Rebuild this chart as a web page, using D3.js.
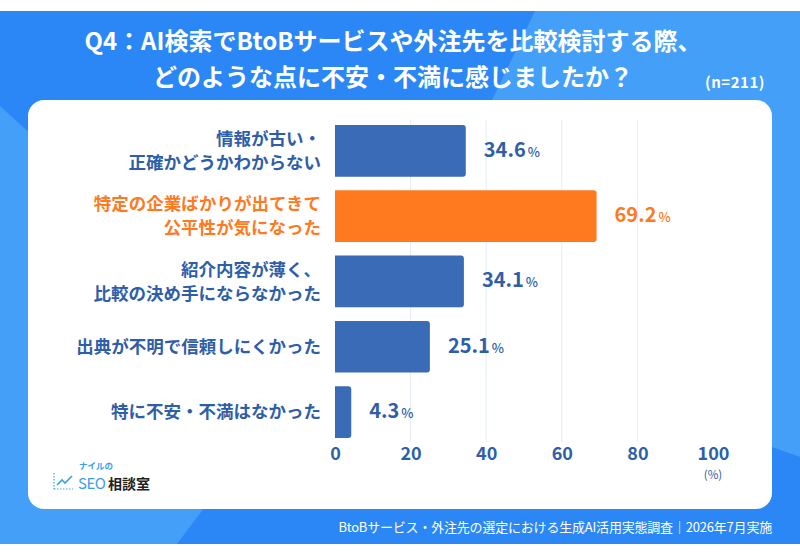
<!DOCTYPE html>
<html>
<head>
<meta charset="utf-8">
<script src="https://cdn.jsdelivr.net/npm/d3@7"></script>
<style>
  html, body { margin: 0; padding: 0; background: #fff; }
  svg { display: block; font-family: "Noto Sans CJK JP", "Noto Sans", sans-serif; }
</style>
</head>
<body>
<script>
// data
var categories = [
  "情報が古い・\n正確かどうかわからない",
  "特定の企業ばかりが出てきて\n公平性が気になった",
  "紹介内容が薄く、\n比較の決め手にならなかった",
  "出典が不明で信頼しにくかった",
  "特に不安・不満はなかった"
];
var values = [34.6, 69.2, 34.1, 25.1, 4.3];
var highlight = [false, true, false, false, false];
var ticks = [0, 20, 40, 60, 80, 100];

var titleLines = [
  "Q4：AI検索でBtoBサービスや外注先を比較検討する際、",
  "どのような点に不安・不満に感じましたか？"
];
var sampleText = "(n=211)";
var footerText = "BtoBサービス・外注先の選定における生成AI活用実態調査｜2026年7月実施";

var width = 800;
var height = 556;

var blue = "#3a6bb6";
var orange = "#ff7a1f";
var textBlue = "#2f5ea8";

var svg = d3.select("body")
  .append("svg")
  .attr("width", width)
  .attr("height", height);

// background band
svg.append("rect")
  .attr("x", 0).attr("y", 11)
  .attr("width", width).attr("height", 533)
  .attr("fill", "#2b87f6");

svg.append("polygon")
  .attr("points", "535,11 800,11 800,457 772,447 492,100")
  .attr("fill", "#439ff7");

svg.append("polygon")
  .attr("points", "0,106 300,380 177,544 0,544")
  .attr("fill", "#439ff7");

// white panel
svg.append("rect")
  .attr("x", 28).attr("y", 100)
  .attr("width", 744).attr("height", 409)
  .attr("rx", 16)
  .attr("fill", "#fff");

// title
svg.selectAll(".title")
  .data(titleLines)
  .enter()
  .append("text")
  .attr("class", "title")
  .attr("x", 393)
  .attr("y", function(d, i) { return 41 + i * 36; })
  .attr("dy", "0.36em")
  .attr("text-anchor", "middle")
  .attr("fill", "#fff")
  .attr("font-size", 24)
  .attr("font-weight", 700)
  .text(function(d) { return d; });

svg.append("text")
  .attr("x", 735).attr("y", 83)
  .attr("dy", "0.36em")
  .attr("text-anchor", "middle")
  .attr("fill", "#fff")
  .attr("font-size", 15)
  .attr("font-weight", 700)
  .attr("letter-spacing", 0.5)
  .text(sampleText);

// scales
var x = d3.scaleLinear()
  .domain([0, 100])
  .range([335, 713]);

var y = d3.scaleBand()
  .domain(categories)
  .range([118.2, 444.7])
  .paddingInner(0.208)
  .paddingOuter(0.104);

// grid
svg.selectAll(".grid")
  .data(ticks.filter(function(t) { return t > 0 && t < 100; }))
  .enter()
  .append("line")
  .attr("x1", function(d) { return x(d); })
  .attr("x2", function(d) { return x(d); })
  .attr("y1", 120)
  .attr("y2", 442)
  .attr("stroke", "#e4ecf6")
  .attr("stroke-width", 1);

// bars with rounded right corners
function barPath(d, i) {
  var x0 = x(0), x1 = x(d), y0 = y(categories[i]), h = y.bandwidth(), r = 3;
  return "M" + x0 + "," + y0 +
    "H" + (x1 - r) +
    "Q" + x1 + "," + y0 + " " + x1 + "," + (y0 + r) +
    "V" + (y0 + h - r) +
    "Q" + x1 + "," + (y0 + h) + " " + (x1 - r) + "," + (y0 + h) +
    "H" + x0 + "Z";
}

svg.selectAll(".bar")
  .data(values)
  .enter()
  .append("path")
  .attr("class", "bar")
  .attr("d", barPath)
  .attr("fill", function(d, i) { return highlight[i] ? orange : blue; });

// value labels
var vl = svg.selectAll(".value")
  .data(values)
  .enter()
  .append("text")
  .attr("class", "value")
  .attr("x", function(d) { return x(d) + 18; })
  .attr("y", function(d, i) { return y(categories[i]) + y.bandwidth() / 2; })
  .attr("dy", "0.36em")
  .attr("fill", function(d, i) { return highlight[i] ? orange : textBlue; });

vl.append("tspan")
  .attr("font-size", 20)
  .attr("font-weight", 700)
  .text(function(d) { return d.toFixed(1); });

vl.append("tspan")
  .attr("dx", 2)
  .attr("font-size", 13)
  .attr("font-weight", 500)
  .text("%");

// category labels
var cl = svg.selectAll(".cat")
  .data(categories)
  .enter()
  .append("text")
  .attr("class", "cat")
  .attr("text-anchor", "end")
  .attr("font-size", 17.5)
  .attr("font-weight", 700)
  .attr("fill", function(d, i) { return highlight[i] ? orange : textBlue; });

cl.selectAll("tspan")
  .data(function(d) {
    var lines = d.split("\n");
    return lines.map(function(l, j) { return { text: l, j: j, n: lines.length, cat: d }; });
  })
  .enter()
  .append("tspan")
  .attr("x", 321)
  .attr("y", function(t) {
    return y(t.cat) + y.bandwidth() / 2 + (t.j - (t.n - 1) / 2) * 24;
  })
  .attr("dy", "0.36em")
  .text(function(t) { return t.text; });

// x axis
var axis = d3.axisBottom(x)
  .tickValues(ticks)
  .tickSize(0)
  .tickPadding(0);

var gx = svg.append("g")
  .attr("transform", "translate(0,444)")
  .call(axis);

gx.select(".domain").remove();
gx.selectAll("text")
  .attr("y", 10)
  .attr("dy", "0.36em")
  .attr("fill", textBlue)
  .attr("font-size", 18)
  .attr("font-weight", 700)
  .attr("font-family", "'Noto Sans CJK JP', sans-serif");

svg.append("text")
  .attr("x", x(100)).attr("y", 475)
  .attr("dy", "0.36em")
  .attr("text-anchor", "middle")
  .attr("fill", textBlue)
  .attr("font-size", 11.5)
  .text("(%)");

// logo
var logo = svg.append("g");
logo.append("line")
  .attr("x1", 54).attr("x2", 54).attr("y1", 473).attr("y2", 489)
  .attr("stroke", "#3aa0e6").attr("stroke-width", 1.2).attr("stroke-dasharray", "1.5,1.5");
logo.append("line")
  .attr("x1", 54).attr("x2", 73).attr("y1", 489).attr("y2", 489)
  .attr("stroke", "#3aa0e6").attr("stroke-width", 1.2).attr("stroke-dasharray", "1.5,1.5");
logo.append("polyline")
  .attr("points", "57,485 62,480 65,483 72,476")
  .attr("fill", "none").attr("stroke", "#3aa0e6").attr("stroke-width", 1.6);
logo.append("text")
  .attr("x", 79).attr("y", 466).attr("dy", "0.36em")
  .attr("font-size", 8.5).attr("font-weight", 700).attr("fill", "#3aa0e6")
  .text("ナイルの");
logo.append("text")
  .attr("x", 78).attr("y", 484).attr("dy", "0.36em")
  .attr("font-size", 15).attr("fill", "#3aa0e6")
  .attr("letter-spacing", -0.5)
  .text("SEO");
logo.append("text")
  .attr("x", 108).attr("y", 484).attr("dy", "0.36em")
  .attr("font-size", 14).attr("font-weight", 700).attr("fill", "#222")
  .text("相談室");

// footer
svg.append("text")
  .attr("x", 772).attr("y", 527)
  .attr("dy", "0.36em")
  .attr("text-anchor", "end")
  .attr("fill", "#fff")
  .attr("font-size", 13)
  .attr("letter-spacing", -0.2)
  .text(footerText);
</script>
</body>
</html>
